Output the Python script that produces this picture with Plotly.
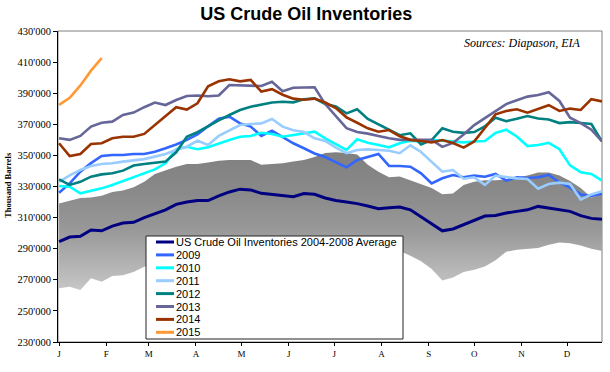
import plotly.graph_objects as go

# ---------------- data (thousand barrels / 1000) ----------------
weeks = list(range(52))
month_labels = ["J", "F", "M", "A", "M", "J", "J", "A", "S", "O", "N", "D"]
month_start_day = [0, 31, 59, 90, 120, 151, 181, 212, 243, 273, 304, 334]

avg_0408 = [294.5, 297.5, 298, 302, 301.5, 304.5, 306.5, 307, 310, 312.5,
            315, 318.5, 320, 321, 321, 324, 326.5, 328.3, 327.8, 325.6,
            325, 324, 323.4, 325.5, 325, 322.6, 321, 320, 319, 317.5,
            315.7, 316.4, 316.8, 315, 310.4, 305.6, 301.5, 302.7, 305.6, 308,
            311, 311.3, 313, 314, 315, 317.2, 316.2, 315.3, 314, 311.3,
            309.5, 309]
band_max = [319, 321, 322.6, 323, 324, 326.5, 327.5, 329.5, 333, 338,
            340.5, 342.7, 344.5, 344.5, 345.5, 346.5, 347, 347, 347, 344,
            344.5, 345, 346, 347, 349, 351.5, 352, 351.5, 350.5, 344,
            339.5, 336, 336.5, 334, 332, 329, 325, 325.5, 331, 333,
            334, 334, 334.5, 336, 337, 339, 339, 337, 333.5, 329,
            323, 325]
band_min = [264.5, 265.6, 263.5, 271, 268.8, 272.4, 273, 275, 278.4, 281,
            283, 285, 287, 288, 289, 289.5, 290, 290.5, 291, 291,
            291, 291.5, 291.5, 291, 290.5, 290, 290, 290, 289.5, 289.5,
            289, 289, 288.6, 285.5, 282, 277, 269.6, 271.4, 275, 276.5,
            278.5, 282.5, 288, 289.3, 290, 290.5, 292.5, 294, 293.5, 292,
            290, 288.6]
y2009 = [326, 332, 339.5, 345, 349.6, 350.3, 350.3, 350.9, 350.9, 352.4,
         354.6, 357, 360, 363.5, 368.7, 373.6, 374.9, 370.6, 368.5, 362.5,
         365.9, 361.6, 357.8, 354.6, 351.2, 349, 345.5, 342.3, 347, 349.2,
         350.9, 343.2, 343.2, 342.7, 338.5, 332, 335.3, 337.4, 336, 337,
         336.3, 338.1, 333.8, 335.9, 335.5, 335.9, 337.4, 332.6, 329.3, 324.9,
         323.9, 325.4]
y2010 = [330.3, 329.9, 325.6, 327.1, 328.8, 331, 333.5, 336.3, 338.9, 341,
         344.9, 354, 355.5, 354, 355.2, 357.8, 359.9, 362, 362.5, 364.6,
         363.8, 362, 363.1, 364.6, 365.3, 361, 357, 353.5, 360.4, 358.2,
         356.7, 355.2, 357.8, 359.5, 358.8, 359.9, 359.5, 358.8, 358.4, 358.9,
         359.3, 364.4, 366.5, 362.2, 356, 356.7, 358.1, 354, 343.6, 339.2,
         338.1, 333.8]
y2011 = [333, 337.2, 340.6, 343.2, 344.5, 344.9, 346, 346.6, 347.6, 349.2,
         350.9, 353.5, 355.6, 359.5, 356.7, 362.5, 366, 369.5, 370.2, 370.6,
         373.4, 368.5, 366.2, 365, 361, 359.3, 355, 351.4, 353.5, 353.9,
         353.5, 353, 351.4, 356.5, 352.2, 346, 339.5, 340.6, 335, 335.9,
         331, 337, 335.9, 335.2, 334.8, 328.6, 331.6, 332.5, 331.6, 321.6,
         324.9, 327]
y2012 = [334.6, 331, 333, 336.3, 337.8, 338.5, 340.2, 343.5, 344.5, 345.3,
         346, 352, 362, 365, 369, 372.5, 376, 379.2, 381.3, 382.5,
         384, 384.5, 384.1, 386.1, 386.7, 383, 381.5, 377, 379.6, 373.5,
         370, 367, 363, 364.2, 357, 359.9, 367.4, 365.2, 364.5, 365,
         368.7, 374.2, 372, 373.5, 375.3, 373.7, 373.1, 370.8, 371.4, 370.8,
         370.2, 359]
y2013 = [361, 360, 362.5, 368.5, 371, 371.7, 376, 377.5, 381, 384,
         382.4, 385.6, 388.2, 388.5, 388, 388.5, 395.3, 395, 394.5, 394.6,
         397.4, 391.3, 393.5, 393.8, 393.8, 383, 375, 367.5, 365, 364,
         362.5, 361, 360, 360, 360, 360, 355.5, 358, 363.5, 369.5,
         374, 378.5, 383, 385.5, 387.8, 388.8, 390.6, 385, 374.2, 370.8,
         366.5, 359]
y2014 = [357.8, 349.6, 350.9, 357.3, 357.8, 361, 362, 362, 363.8, 369.5,
         375, 381, 379.5, 383.5, 394.5, 397.7, 399, 397.6, 398.5, 391,
         392.6, 389, 386.5, 385.8, 386.5, 384, 380.5, 374.5, 371, 367.4,
         365.2, 366.3, 362.3, 360, 359.3, 358.3, 359.9, 358, 355, 359,
         367.6, 376.4, 378.6, 379.7, 377.5, 380, 382.3, 378.6, 380.1, 379.2,
         386.2, 384.7]
y2015 = [382.5, 387, 395, 404.5, 412.5]

series_names = ["US Crude Oil Inventories 2004-2008 Average", "2009", "2010",
                "2011", "2012", "2013", "2014", "2015"]
series_values = [avg_0408, y2009, y2010, y2011, y2012, y2013, y2014, y2015]
series_colors = ["#000080", "#3366FF", "#00FFFF", "#99CCFF", "#008080",
                 "#666699", "#993300", "#FF9933"]
series_widths = [3, 2.6, 2.6, 2.6, 2.6, 2.6, 2.6, 2.6]

K = 1000

# ---------------- figure ----------------
W, H = 610, 372
PL, PR, PT, PB = 58, 602, 31, 342


def px_x(x):
    return (x - PL) / (PR - PL)


def px_y(y):
    return (PB - y) / (PB - PT)


fig = go.Figure()

# min/max band with vertical gradient
fig.add_trace(go.Scatter(x=weeks, y=[v * K for v in band_min], mode="lines",
                         line=dict(width=0, color="rgba(0,0,0,0)"),
                         showlegend=False, hoverinfo="skip"))
fig.add_trace(go.Scatter(x=weeks, y=[v * K for v in band_max], mode="lines",
                         line=dict(width=0, color="rgba(0,0,0,0)"),
                         fill="tonexty",
                         fillgradient=dict(type="vertical",
                                           colorscale=[[0, "#c8c8c8"], [0.45, "#989898"],
                                                       [0.75, "#888888"], [1, "#808080"]],
                                           start=262 * K, stop=352 * K),
                         showlegend=False, hoverinfo="skip"))

for name, vals, col, w in zip(series_names, series_values, series_colors, series_widths):
    fig.add_trace(go.Scatter(x=weeks[:len(vals)], y=[v * K for v in vals], mode="lines",
                             name=name, line=dict(color=col, width=w),
                             showlegend=False))

shapes = [
    dict(type="rect", xref="paper", yref="paper", x0=0, x1=1, y0=0, y1=1,
         line=dict(color="#808080", width=1), layer="below"),
]

# custom legend box
LX0, LX1, LY0, LY1 = 146, 403, 236, 339
shapes.append(dict(type="rect", xref="paper", yref="paper",
                   x0=px_x(LX0), x1=px_x(LX1), y0=px_y(LY1), y1=px_y(LY0),
                   fillcolor="white", line=dict(color="#222222", width=1), layer="above"))
annotations = []
for i, (name, col) in enumerate(zip(series_names, series_colors)):
    yy = 242 + 12.9 * i
    shapes.append(dict(type="line", xref="paper", yref="paper",
                       x0=px_x(156), x1=px_x(174), y0=px_y(yy), y1=px_y(yy),
                       line=dict(color=col, width=3), layer="above"))
    annotations.append(dict(xref="paper", yref="paper", x=px_x(174), y=px_y(yy),
                            xanchor="left", yanchor="middle", showarrow=False,
                            text=name,
                            font=dict(family="Liberation Sans, Arial", size=11, color="black")))

annotations.append(dict(xref="paper", yref="paper", x=px_x(583), y=px_y(43),
                        xanchor="right", yanchor="middle", showarrow=False,
                        text="<i>Sources: Diapason, EIA</i>",
                        font=dict(family="Liberation Serif, Times New Roman", size=12,
                                  color="black")))
annotations.append(dict(xref="paper", yref="paper", x=px_x(8), y=px_y(185),
                        xanchor="center", yanchor="middle", showarrow=False,
                        textangle=-90, text="<b>Thousand Barrels</b>",
                        font=dict(family="Liberation Serif, Times New Roman", size=8.5,
                                  color="black")))

fig.update_layout(
    width=W, height=H,
    margin=dict(l=PL, r=W - PR, t=PT, b=H - PB, pad=0),
    paper_bgcolor="white", plot_bgcolor="white",
    separators=".'",
    hovermode=False,
    title=dict(text="<b>US Crude Oil Inventories</b>", x=0.502, xref="container",
               xanchor="center", y=1 - 14 / H, yanchor="middle", yref="container",
               font=dict(family="Liberation Sans, Arial", size=18, color="black")),
    shapes=shapes, annotations=annotations,
    showlegend=False,
    xaxis=dict(range=[-0.1, 51], tickvals=[d / 7 for d in month_start_day],
               ticktext=month_labels, showgrid=False, zeroline=False,
               showline=True, linecolor="black", linewidth=1,
               ticks="outside", ticklen=3, tickcolor="black",
               tickfont=dict(family="Liberation Serif, Times New Roman", size=9,
                             color="black")),
    yaxis=dict(range=[230 * K, 430 * K], dtick=20 * K, tick0=230 * K,
               tickformat=",d", showgrid=False, zeroline=False,
               showline=True, linecolor="black", linewidth=1,
               ticks="outside", ticklen=4, tickcolor="black",
               tickfont=dict(family="Liberation Serif, Times New Roman", size=10.5,
                             color="black")),
)

fig.write_html("out.html",
               config={"displayModeBar": False, "staticPlot": True},
               post_script="document.body.style.margin='0';"
                           "document.body.style.overflow='hidden';")
